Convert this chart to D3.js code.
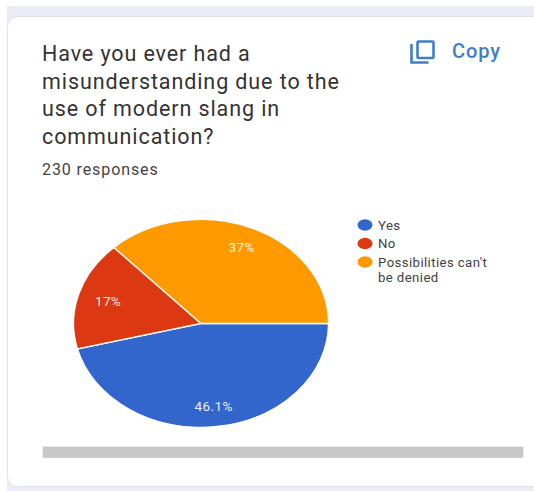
<!DOCTYPE html>
<html><head><meta charset="utf-8">
<script src="https://cdn.jsdelivr.net/npm/d3@7"></script>
<style>html,body{margin:0;padding:0;background:#fff;overflow:hidden}svg{display:block}text{font-family:Roboto,sans-serif}</style>
</head><body><svg id="c" width="534" height="491"></svg>
<script>
const categories=["Yes","No","Possibilities can't be denied"];
const values=[46.1,17,37];
const sliceLabels=["46.1%","17%","37%"];
const colors=["#3366cc","#dc3912","#ff9900"];
const titleLines=["Have you ever had a","misunderstanding due to the","use of modern slang in","communication?"];
const subtitle="230 responses";
const legendLines=[["Yes"],["No"],["Possibilities can't","be denied"]];
const labelRadius=[0.8,0.76,0.8];

const svg=d3.select("#c");
svg.append("rect").attr("x",7).attr("y",6).attr("width",527).attr("height",485).attr("fill","#ecebf8");
svg.append("rect").attr("x",7.5).attr("y",16.5).attr("width",540).attr("height",470).attr("rx",10)
  .attr("fill","#fff").attr("stroke","#e2e2e6").attr("stroke-width",1);

svg.append("g").selectAll("text").data(titleLines).join("text")
  .attr("x",42).attr("y",(d,i)=>61+i*27.6).attr("font-size",21.5).attr("letter-spacing",0.9).attr("fill","#333").text(d=>d);
svg.append("text").attr("x",42).attr("y",175).attr("font-size",16).attr("letter-spacing",0.9).attr("fill","#444").text(subtitle);

const copy=svg.append("g").attr("fill","none").attr("stroke","#3f7fc8").attr("stroke-width",2.6);
copy.append("rect").attr("x",417.5).attr("y",41.5).attr("width",16).attr("height",16.5).attr("rx",1);
copy.append("path").attr("d","M411.5 44V62.5H428.5");
svg.append("text").attr("x",452).attr("y",58).attr("font-size",20).attr("font-weight",500).attr("letter-spacing",0.9).attr("fill","#3f7fc8").text("Copy");

const rx=127.5,ry=104,cx=201,cy=323.5;
const sx=d3.scaleLinear().domain([-1,1]).range([cx-rx,cx+rx]);
const sy=d3.scaleLinear().domain([-1,1]).range([cy-ry,cy+ry]);
const pie=d3.pie().sort(null).startAngle(Math.PI/2).endAngle(Math.PI*2.5);
const arcs=pie(values);
const arc=d3.arc().innerRadius(0).outerRadius(1);
const g=svg.append("g").attr("transform",`translate(${sx(0)},${sy(0)}) scale(${rx},${ry})`);
g.selectAll("path").data(arcs).join("path").attr("d",arc).attr("fill",(d,i)=>colors[i])
  .attr("stroke","#fff").attr("stroke-width",1.3).attr("vector-effect","non-scaling-stroke");
const centroid=(d,i)=>d3.arc().innerRadius(labelRadius[i]).outerRadius(labelRadius[i]).centroid(d);
svg.append("g").selectAll("text").data(arcs).join("text")
  .attr("x",(d,i)=>sx(centroid(d,i)[0])).attr("y",(d,i)=>sy(centroid(d,i)[1])+4.5)
  .attr("text-anchor","middle").attr("font-size",13.5).attr("letter-spacing",0.4).attr("fill","#fff").attr("fill-opacity",0.92)
  .text((d,i)=>sliceLabels[i]);

const legY=d3.scalePoint().domain(categories).range([225,262]);
const leg=svg.append("g").selectAll("g").data(categories).join("g");
leg.append("ellipse").attr("cx",365).attr("cy",d=>legY(d)).attr("rx",7.5).attr("ry",5.7).attr("fill",(d,i)=>colors[i]);
leg.append("text").attr("font-size",13.2).attr("letter-spacing",0.4).attr("fill","#424242")
  .selectAll("tspan").data((d,i)=>legendLines[i].map((t,j)=>({t,j,d}))).join("tspan")
  .attr("x",378).attr("y",d=>legY(d.d)+4.5+d.j*15).text(d=>d.t);

svg.append("rect").attr("x",43).attr("y",447).attr("width",480).attr("height",10.5)
  .attr("fill","#c8c8c8").attr("stroke","#bcbcbc").attr("stroke-width",0.5);
</script></body></html>
